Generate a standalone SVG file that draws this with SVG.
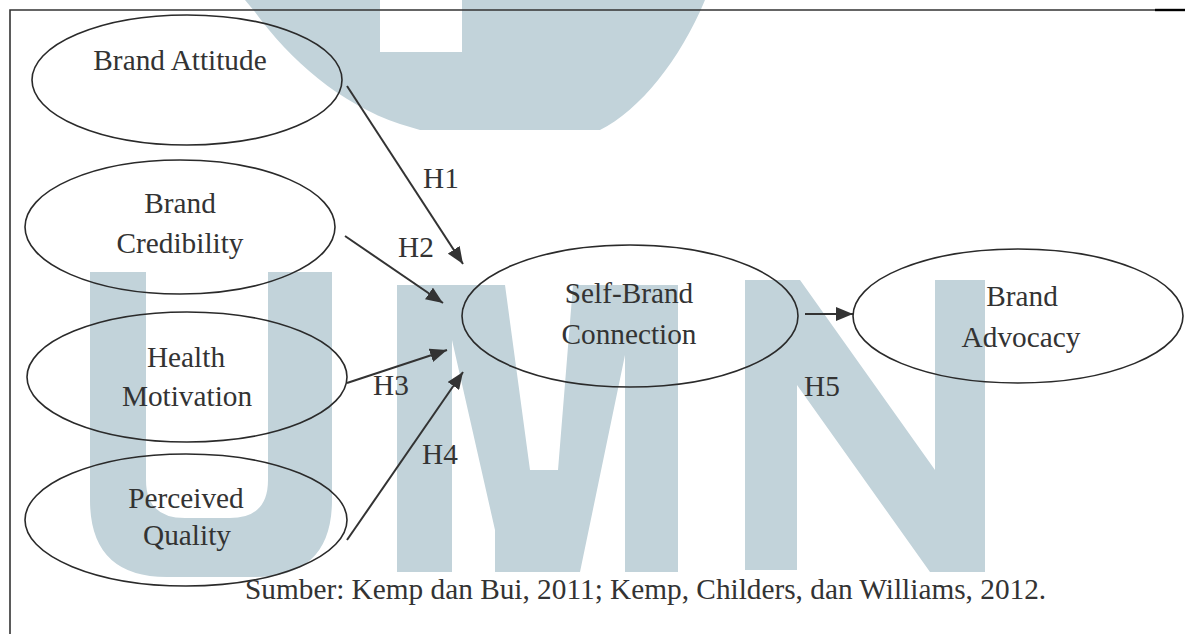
<svg xmlns="http://www.w3.org/2000/svg" width="1185" height="634" viewBox="0 0 1185 634">
<defs>
<style>
.wm{fill:#c2d3da;stroke:none}
.node ellipse{fill:none;stroke:#2a2a2a;stroke-width:1.6}
text{font-family:"Liberation Serif","Times New Roman",serif;font-size:29.3px;fill:#333}
.c{text-anchor:middle}
.edge{stroke:#333;stroke-width:2;fill:none;marker-end:url(#ah)}
</style>
<marker id="ah" markerUnits="userSpaceOnUse" markerWidth="17" markerHeight="14" refX="17" refY="7" orient="auto">
<path d="M0,0 L17,7 L0,14 Z" fill="#333"/>
</marker>
</defs>
<rect width="1185" height="634" fill="#ffffff"/>
<g id="watermark">
<path class="wm" fill-rule="evenodd" d="M245,0 L255,12 C290,60 340,104 400,124 L420,130 H600 C640,110 680,60 705,0 Z M380,0 H462 V52 H380 Z"/>
<path class="wm" d="M90,272 H146 V480 Q146,518 185,518 H230 Q268,518 268,480 V272 H332 V500 Q332,577 255,577 H167 Q90,577 90,500 Z"/>
<path class="wm" d="M397,572 V285 H505 L530,470 H558 L573,285 H678 V572 H625 V355 L580,572 H495 V530 L452,340 V572 Z"/>
<path class="wm" d="M745,570 V280 H800 L935,470 V280 H985 V572 H930 L797,385 V570 Z"/>
</g>
<g id="frame" stroke="#333" stroke-width="1.6" fill="none">
<path d="M10,634 V10 H1185"/>
<path d="M1155,10 H1185" stroke="#000" stroke-width="2.4"/>
</g>
<g id="connectors">
<line class="edge" x1="347" y1="86" x2="463" y2="264"/>
<line class="edge" x1="345" y1="236" x2="443" y2="303"/>
<line class="edge" x1="347" y1="383" x2="447" y2="350"/>
<line class="edge" x1="347" y1="540" x2="463" y2="372"/>
<line class="edge" x1="805" y1="314" x2="853" y2="314"/>
<text x="423" y="188">H1</text>
<text x="398" y="257">H2</text>
<text x="373" y="395">H3</text>
<text x="422" y="464">H4</text>
<text x="804" y="396">H5</text>
</g>
<g id="brand-attitude" class="node">
<ellipse cx="187" cy="80" rx="155" ry="65"/>
<text class="c" x="180" y="70">Brand Attitude</text>
</g>
<g id="brand-credibility" class="node">
<ellipse cx="180" cy="227" rx="155" ry="67"/>
<text class="c" x="180" y="213">Brand</text>
<text class="c" x="180" y="253">Credibility</text>
</g>
<g id="health-motivation" class="node">
<ellipse cx="187" cy="377" rx="160" ry="65"/>
<text class="c" x="186" y="367">Health</text>
<text class="c" x="187" y="406">Motivation</text>
</g>
<g id="perceived-quality" class="node">
<ellipse cx="186" cy="520" rx="161" ry="66"/>
<text class="c" x="186" y="508">Perceived</text>
<text class="c" x="187" y="545">Quality</text>
</g>
<g id="self-brand-connection" class="node">
<ellipse cx="630" cy="316" rx="168" ry="71"/>
<text class="c" x="629" y="303">Self-Brand</text>
<text class="c" x="629" y="344">Connection</text>
</g>
<g id="brand-advocacy" class="node">
<ellipse cx="1018" cy="316" rx="165" ry="67"/>
<text class="c" x="1022" y="306">Brand</text>
<text class="c" x="1021" y="347">Advocacy</text>
</g>
<g id="source">
<text x="245" y="599">Sumber: Kemp dan Bui, 2011; Kemp, Childers, dan Williams, 2012.</text>
</g>
</svg>
